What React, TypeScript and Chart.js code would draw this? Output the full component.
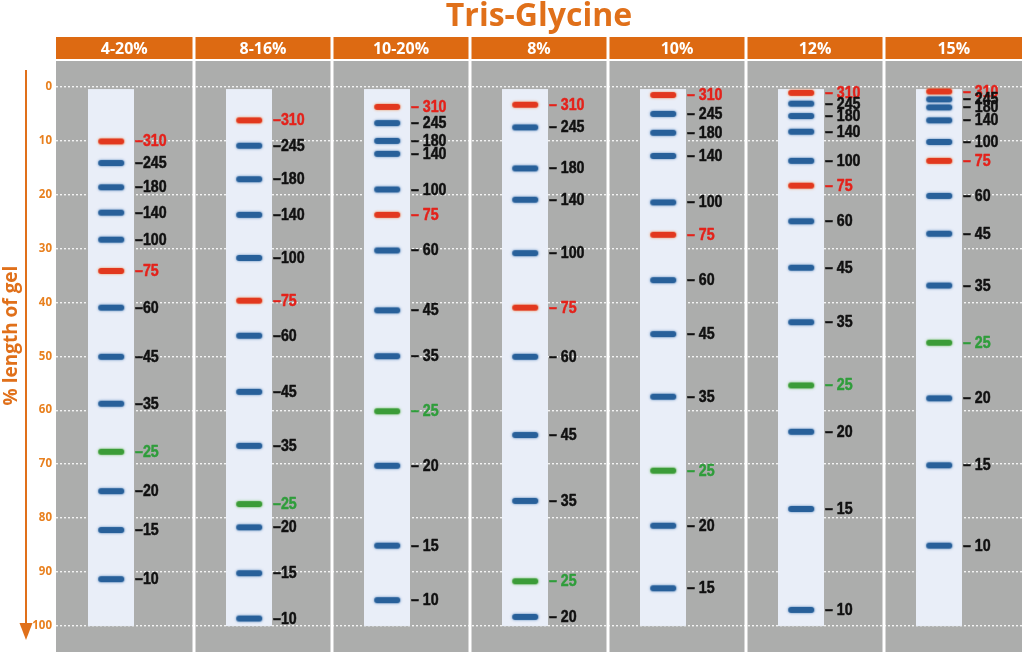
import React, { useEffect, useRef } from 'react';
import { Chart, registerables } from 'chart.js';

Chart.register(...registerables);

// ---------------- data ----------------
const TITLE = 'Tris-Glycine';
const AXIS_TITLE = '% length of gel';
const GELS = ['4-20%', '8-16%', '10-20%', '8%', '10%', '12%', '15%'];
const MARKERS = ['310', '245', '180', '140', '100', '75', '60', '45', '35', '25', '20', '15', '10'];
const MARKER_KIND = ['red', 'blue', 'blue', 'blue', 'blue', 'red', 'blue', 'blue', 'blue', 'green', 'blue', 'blue', 'blue'];
const Y_TICKS = [0, 10, 20, 30, 40, 50, 60, 70, 80, 90, 100];

// migration (% length of gel) per marker, per gel
const MIG_4_20 = [10.2, 14.2, 18.7, 23.4, 28.4, 34.2, 41.0, 50.1, 58.8, 67.7, 75.0, 82.2, 91.3];
const MIG_8_16 = [6.3, 11.0, 17.2, 23.8, 31.8, 39.7, 46.2, 56.6, 66.6, 77.4, 81.7, 90.2, 98.6];
const MIG_10_20 = [3.8, 6.8, 10.1, 12.5, 19.1, 23.8, 30.4, 41.5, 50.0, 60.2, 70.3, 85.1, 95.2];
const MIG_8 = [3.4, 7.6, 15.2, 21.0, 30.9, 41.0, 50.1, 64.6, 76.8, 91.7, 98.3, null, null];
const MIG_10 = [1.6, 5.1, 8.6, 12.9, 21.5, 27.5, 35.9, 45.9, 57.5, 71.2, 81.4, 93.0, null];
const MIG_12 = [1.2, 3.2, 5.5, 8.4, 13.8, 18.4, 25.0, 33.6, 43.7, 55.4, 64.0, 78.3, 97.0];
const MIG_15 = [0.95, 2.4, 3.9, 6.3, 10.3, 13.8, 20.3, 27.3, 36.9, 47.5, 57.8, 70.2, 85.1];
const MIGRATION: (number | null)[][] = [MIG_4_20, MIG_8_16, MIG_10_20, MIG_8, MIG_10, MIG_12, MIG_15];

// ---------------- styles ----------------
const ORANGE = '#e0701a';
const HEADER_BG = '#dd6a12';
const TICK_ORANGE = '#e8801f';
const GEL_BG = '#acadac';
const LANE_BG = '#e9eef8';
const BAND_COLORS: Record<string, string> = { red: '#e2381e', blue: '#28609a', green: '#3b9c38' };
const BAND_GLOW: Record<string, string> = { red: '#f08a4a', blue: '#4a7fb8', green: '#6cbc5c' };
const LABEL_COLORS: Record<string, string> = { red: '#e4221b', blue: '#111111', green: '#2f9d3b' };
const LANE_OFFSET = 0.4;
const LANE_WIDTH = 0.333;
const LANE_TOP = 0.5;
const LANE_BOTTOM = 100;
const Y_MIN = -4.7;
const Y_MAX = 104.8;

function makeBand(kind: string): HTMLCanvasElement {
  const c = document.createElement('canvas');
  c.width = 36;
  c.height = 14;
  const ctx = c.getContext('2d')!;
  ctx.shadowColor = BAND_GLOW[kind];
  ctx.shadowBlur = 2.5;
  ctx.fillStyle = BAND_COLORS[kind];
  ctx.beginPath();
  (ctx as any).roundRect(5, 4, 26, 6, 3);
  ctx.fill();
  return c;
}

const gelPlugin = {
  id: 'gelPlugin',
  beforeDraw(chart: any) {
    const { ctx, chartArea } = chart;
    ctx.save();
    ctx.fillStyle = GEL_BG;
    ctx.fillRect(chartArea.left, chartArea.top, chartArea.right - chartArea.left, chartArea.bottom - chartArea.top);
    ctx.restore();
  },
  beforeDatasetsDraw(chart: any) {
    const { ctx, chartArea, scales } = chart;
    const x = scales.x;
    const y = scales.y;
    ctx.save();
    ctx.fillStyle = '#ffffff';
    for (let i = 1; i < GELS.length; i++) {
      const px = x.getPixelForValue(i);
      ctx.fillRect(px - 1.5, chartArea.top, 3, chartArea.bottom - chartArea.top);
    }
    ctx.fillStyle = LANE_BG;
    const laneW = x.getPixelForValue(LANE_WIDTH) - x.getPixelForValue(0);
    GELS.forEach((_, i) => {
      const cx = x.getPixelForValue(i + LANE_OFFSET);
      const top = y.getPixelForValue(LANE_TOP);
      const bottom = y.getPixelForValue(LANE_BOTTOM);
      ctx.fillRect(Math.round(cx - laneW / 2), top, Math.round(laneW), bottom - top);
    });
    ctx.restore();
  },
  afterDatasetsDraw(chart: any) {
    const { ctx, scales } = chart;
    const x = scales.x;
    const y = scales.y;
    const laneW = x.getPixelForValue(LANE_WIDTH) - x.getPixelForValue(0);
    ctx.save();
    ctx.textBaseline = 'middle';
    ctx.textAlign = 'left';
    ctx.font = "bold 16.5px 'Liberation Sans', Arial, sans-serif";
    ctx.lineWidth = 0.5;
    ctx.lineJoin = 'round';
    MIGRATION.forEach((mig, gi) => {
      const lx = Math.round(x.getPixelForValue(gi + LANE_OFFSET) + laneW / 2) + 1;
      mig.forEach((v, mi) => {
        if (v === null || v === undefined) return;
        const py = y.getPixelForValue(v);
        const text = (gi < 2 ? '\u2013' : '\u2013 ') + MARKERS[mi];
        const col = LABEL_COLORS[MARKER_KIND[mi]];
        ctx.fillStyle = col;
        ctx.strokeStyle = col;
        ctx.save();
        ctx.translate(lx, py + 0.5);
        ctx.scale(0.86, 1);
        ctx.fillText(text, 0, 0);
        ctx.strokeText(text, 0, 0);
        ctx.restore();
      });
    });
    ctx.restore();
  },
  afterDraw(chart: any) {
    const { ctx, chartArea, scales } = chart;
    const x = scales.x;
    ctx.save();
    GELS.forEach((g, i) => {
      const l = x.getPixelForValue(i) + (i === 0 ? 0 : 1.5);
      const r = x.getPixelForValue(i + 1) - (i === GELS.length - 1 ? 0 : 1.5);
      const top = chartArea.top - 24;
      const h = 22;
      ctx.fillStyle = HEADER_BG;
      ctx.fillRect(l, top, r - l, h);
      ctx.fillStyle = '#ffffff';
      ctx.font = "bold 16px 'Open Sans', sans-serif";
      ctx.textAlign = 'center';
      ctx.textBaseline = 'middle';
      ctx.fillText(g, (l + r) / 2, top + h / 2 + 1);
    });
    const ax = chartArea.left - 30;
    const aTop = chartArea.top + 9;
    const aBottom = chartArea.bottom - 12;
    ctx.strokeStyle = ORANGE;
    ctx.lineWidth = 2;
    ctx.beginPath();
    ctx.moveTo(ax, aTop);
    ctx.lineTo(ax, aBottom - 10);
    ctx.stroke();
    ctx.fillStyle = ORANGE;
    ctx.beginPath();
    ctx.moveTo(ax - 6.5, aBottom - 17);
    ctx.lineTo(ax + 6.5, aBottom - 17);
    ctx.lineTo(ax, aBottom);
    ctx.closePath();
    ctx.fill();
    ctx.save();
    ctx.translate(chartArea.left - 44, (chartArea.top + chartArea.bottom) / 2 - 21);
    ctx.rotate(-Math.PI / 2);
    ctx.fillStyle = ORANGE;
    ctx.font = "bold 19px 'Open Sans', sans-serif";
    ctx.textAlign = 'center';
    ctx.textBaseline = 'middle';
    ctx.fillText(AXIS_TITLE, 0, 0);
    ctx.restore();
    ctx.restore();
  },
};

export default function App() {
  const ref = useRef<HTMLCanvasElement | null>(null);
  useEffect(() => {
    if (!ref.current) return;
    const bands: Record<string, HTMLCanvasElement> = {
      red: makeBand('red'),
      blue: makeBand('blue'),
      green: makeBand('green'),
    };
    const kinds = ['red', 'blue', 'green'];
    const datasets = kinds.map((k) => {
      const pts: { x: number; y: number }[] = [];
      MIGRATION.forEach((mig, gi) => {
        mig.forEach((v, mi) => {
          if (v === null || MARKER_KIND[mi] !== k) return;
          pts.push({ x: gi + LANE_OFFSET, y: v });
        });
      });
      return {
        label: k,
        data: pts,
        pointStyle: bands[k],
        pointRadius: 6,
        pointHoverRadius: 6,
        showLine: false,
      };
    });
    const chart = new Chart(ref.current, {
      type: 'scatter',
      data: { datasets: datasets as any },
      options: {
        animation: false,
        responsive: false,
        devicePixelRatio: 1,
        events: [],
        layout: { autoPadding: false, padding: { left: 0, right: 2, top: 0, bottom: 0 } },
        plugins: {
          legend: { display: false },
          tooltip: { enabled: false },
          title: {
            display: true,
            text: TITLE,
            color: ORANGE,
            fullSize: false,
            font: { family: "'Open Sans', sans-serif", size: 32, weight: 'bold', lineHeight: 1.0 },
            padding: { top: 1, bottom: 28 },
          },
        },
        scales: {
          x: { type: 'linear', min: 0, max: GELS.length, display: false },
          y: {
            type: 'linear',
            reverse: true,
            min: Y_MIN,
            max: Y_MAX,
            afterBuildTicks: (axis: any) => {
              axis.ticks = Y_TICKS.map((v) => ({ value: v }));
            },
            afterFit: (scale: any) => {
              scale.width = 56;
              scale.paddingTop = 0;
              scale.paddingBottom = 0;
            },
            ticks: {
              color: TICK_ORANGE,
              padding: 4,
              font: { family: "'Open Sans', sans-serif", size: 11.5, weight: 'bold' },
            },
            grid: { color: 'rgba(255,255,255,0.85)', lineWidth: 1.4, drawTicks: false },
            border: { display: false, dash: [2, 2] },
          },
        },
      },
      plugins: [gelPlugin],
    });
    return () => chart.destroy();
  }, []);
  return (
    <div style={{ position: 'fixed', left: 0, top: 0, width: 1024, height: 652, background: '#fff' }}>
      <canvas ref={ref} width={1024} height={652} />
    </div>
  );
}
